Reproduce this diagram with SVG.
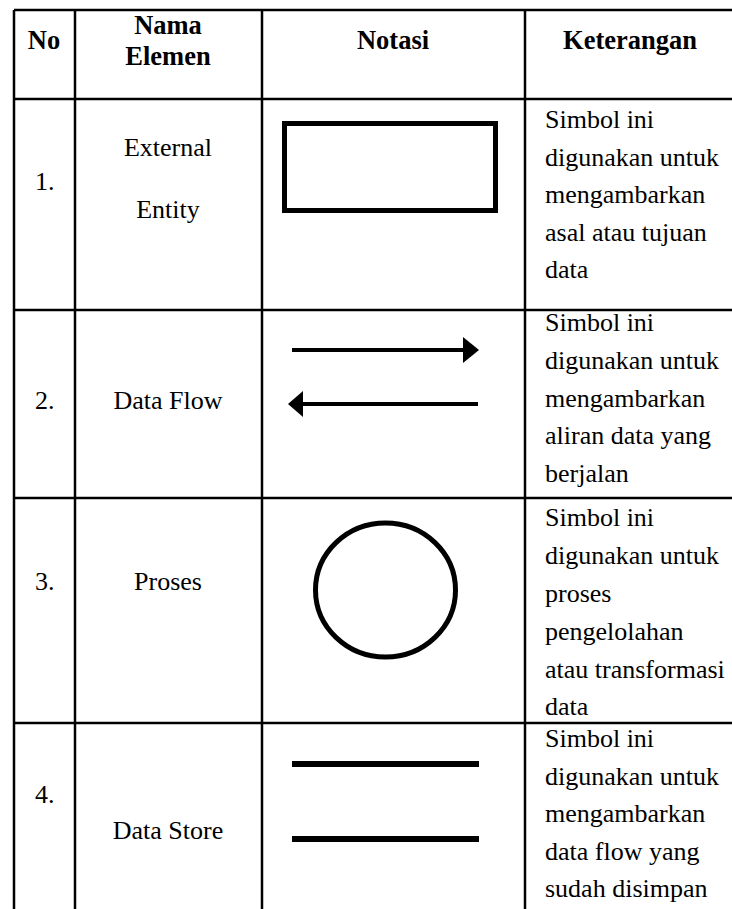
<svg xmlns="http://www.w3.org/2000/svg" width="732" height="909" viewBox="0 0 732 909">
<style>
.grid{stroke:#000;stroke-width:2.5;fill:none}
.th{font-family:"Liberation Serif","Times New Roman",serif;font-weight:bold;font-size:26.5px;fill:#000}
.td{font-family:"Liberation Serif","Times New Roman",serif;font-size:26px;fill:#000}
.c{text-anchor:middle}
.sym{stroke:#000;fill:none}
</style>
<rect width="732" height="909" fill="#fff"/>
<g id="grid" class="grid">
<line x1="14" y1="10" x2="732" y2="10"/>
<line x1="14" y1="99" x2="732" y2="99"/>
<line x1="14" y1="310" x2="732" y2="310"/>
<line x1="14" y1="498" x2="732" y2="498"/>
<line x1="14" y1="723" x2="732" y2="723"/>
<line x1="14" y1="10" x2="14" y2="909"/>
<line x1="75" y1="10" x2="75" y2="909"/>
<line x1="262" y1="10" x2="262" y2="909"/>
<line x1="525" y1="10" x2="525" y2="909"/>
</g>
<g id="header">
<text class="th c" x="44" y="49">No</text>
<text class="th c" x="168" y="34">Nama</text>
<text class="th c" x="168" y="65">Elemen</text>
<text class="th c" x="393" y="49">Notasi</text>
<text class="th c" x="630" y="49">Keterangan</text>
</g>
<g id="row1">
<text class="td" x="35" y="190">1.</text>
<text class="td c" x="168" y="156">External</text>
<text class="td c" x="168" y="218">Entity</text>
<rect class="sym" x="284.5" y="123.5" width="211" height="87" stroke-width="5"/>
<text class="td" x="545"><tspan x="545" y="128">Simbol ini</tspan><tspan x="545" y="165.5">digunakan untuk</tspan><tspan x="545" y="203">mengambarkan</tspan><tspan x="545" y="240.5">asal atau tujuan</tspan><tspan x="545" y="278">data</tspan></text>
</g>
<g id="row2">
<text class="td" x="35" y="409">2.</text>
<text class="td c" x="168" y="409">Data Flow</text>
<g id="arrows">
<line class="sym" x1="292" y1="350" x2="465" y2="350" stroke-width="4"/>
<polygon points="463,337 479,350 463,363" fill="#000"/>
<line class="sym" x1="478" y1="404" x2="301" y2="404" stroke-width="4"/>
<polygon points="303,391 288,404 303,417" fill="#000"/>
</g>
<text class="td" x="545"><tspan x="545" y="331">Simbol ini</tspan><tspan x="545" y="369">digunakan untuk</tspan><tspan x="545" y="406.5">mengambarkan</tspan><tspan x="545" y="444">aliran data yang</tspan><tspan x="545" y="482">berjalan</tspan></text>
</g>
<g id="row3">
<text class="td" x="35" y="590">3.</text>
<text class="td c" x="168" y="590">Proses</text>
<ellipse class="sym" cx="385.5" cy="590" rx="70" ry="67" stroke-width="5"/>
<text class="td" x="545"><tspan x="545" y="526">Simbol ini</tspan><tspan x="545" y="564">digunakan untuk</tspan><tspan x="545" y="602">proses</tspan><tspan x="545" y="640">pengelolahan</tspan><tspan x="545" y="678">atau transformasi</tspan><tspan x="545" y="715">data</tspan></text>
</g>
<g id="row4">
<text class="td" x="35" y="803">4.</text>
<text class="td c" x="168" y="839">Data Store</text>
<line class="sym" x1="292" y1="764" x2="479" y2="764" stroke-width="6"/>
<line class="sym" x1="292" y1="839" x2="479" y2="839" stroke-width="6"/>
<text class="td" x="545"><tspan x="545" y="747">Simbol ini</tspan><tspan x="545" y="785">digunakan untuk</tspan><tspan x="545" y="822">mengambarkan</tspan><tspan x="545" y="860">data flow yang</tspan><tspan x="545" y="897">sudah disimpan</tspan></text>
</g>
</svg>
